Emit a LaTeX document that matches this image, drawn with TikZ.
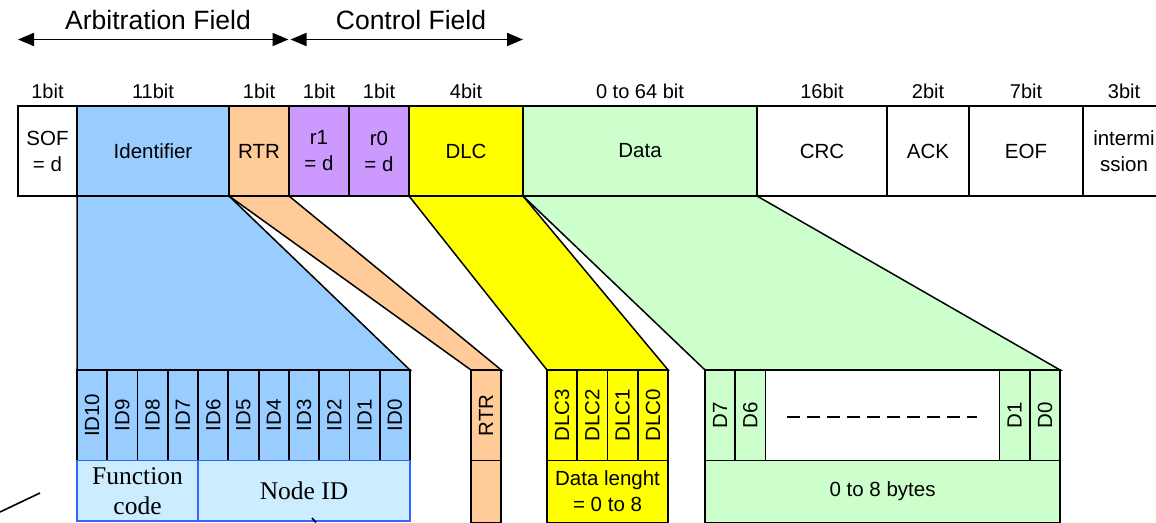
\documentclass[tikz,border=0pt]{standalone}
\usepackage{fontspec}
\usepackage{graphicx}
\setmainfont{Liberation Sans}
\newfontfamily\romanfont{Liberation Serif}
\usetikzlibrary{arrows.meta,backgrounds}

\definecolor{idblue}{HTML}{99CCFF}
\definecolor{rtrorange}{HTML}{FFCC99}
\definecolor{respurple}{HTML}{CC99FF}
\definecolor{dlcyellow}{HTML}{FFFF00}
\definecolor{datagreen}{HTML}{CCFFCC}
\definecolor{fnblue}{HTML}{CCECFF}
\definecolor{fnedge}{HTML}{3366FF}

\begin{document}
\begin{tikzpicture}
  [x=1pt,y=-1pt,
   field/.style={draw,line width=1.8pt,inner sep=0pt,outer sep=0pt,
     anchor=north west,minimum height=90pt,align=center,
     font=\fontsize{20.5}{26}\selectfont},
   bitcell/.style={field,minimum width=30.27pt,minimum height=90.5pt},
   infocell/.style={field,minimum height=62pt},
   bitlabel/.style={inner sep=0pt,font=\fontsize{20}{24}\selectfont},
   headlabel/.style={inner sep=0pt,font=\fontsize{26.5}{32}\selectfont},
   band/.style={draw,line width=1.5pt},
   fieldarrow/.style={line width=1.8pt,
     {Triangle[length=16pt,width=13pt]}-{Triangle[length=16pt,width=13pt]}}]

  \useasboundingbox (0,0) rectangle (1156,522);

  % frame fields with their sizes
  \foreach \name/\x/\w/\col/\txt/\bits in {
      sof/18/59/white/{SOF\\= d}/1bit,
      ident/77/152/idblue/Identifier/11bit,
      rtr/229/60/rtrorange/RTR/1bit,
      rone/289/60/respurple/{r1\\= d}/1bit,
      rzero/349/60/respurple/{r0\\= d}/1bit,
      dlc/409/114/dlcyellow/DLC/4bit,
      data/523/234/datagreen/Data/0 to 64 bit,
      crc/757/130/white/CRC/16bit,
      ack/887/82/white/ACK/2bit,
      eof/969/114/white/EOF/7bit,
      ifs/1083/82/white/{intermi\\ssion}/3bit}
  {
    \node[field,fill=\col,minimum width=\w pt] (\name) at (\x,106) {\txt};
    \node[bitlabel] (\name-bit) at ([yshift=15pt]\name.north) {\bits};
  }

  \coordinate (arbleft)  at (18,39.5);
  \coordinate (arbright) at (288.5,39.5);
  \coordinate (ctlleft)  at (290.5,39.5);
  \coordinate (ctlright) at (523,39.5);
  \draw[fieldarrow] (arbleft) -- (arbright);
  \draw[fieldarrow] (ctlleft) -- (ctlright);
  \node[headlabel] (arbtitle) at (158,20) {Arbitration Field};
  \node[headlabel] (ctltitle) at (411,20) {Control Field};

  % identifier bits
  \foreach \i in {0,...,10}{
    \pgfmathtruncatemacro\n{10-\i}
    \node[bitcell,fill=idblue] (id\n) at (77+\i*30.27,370) {\rotatebox{90}{ID\n}};
  }
  \node[infocell,fill=fnblue,draw=fnedge,minimum width=121.08pt,minimum height=60.5pt,
        font=\romanfont\fontsize{25.5}{30}\selectfont] (fncode) at (id10.south west) {Function\\code};
  \node[infocell,fill=fnblue,draw=fnedge,minimum width=211.89pt,minimum height=60.5pt,
        font=\romanfont\fontsize{25.5}{30}\selectfont] (nodeid) at (id6.south west) {Node ID};

  % RTR bit
  \node[bitcell,fill=rtrorange] (rtrbit) at (471,370) {\rotatebox{90}{RTR}};
  \node[infocell,fill=rtrorange,minimum width=30.27pt] (rtrfree) at (rtrbit.south west) {};

  % DLC bits
  \foreach \i in {0,...,3}{
    \pgfmathtruncatemacro\n{3-\i}
    \node[bitcell,fill=dlcyellow] (dlc\n) at (547+\i*30.27,370) {\rotatebox{90}{DLC\n}};
  }
  \node[infocell,fill=dlcyellow,minimum width=121.08pt] (dlclen) at (dlc3.south west) {Data lenght\\= 0 to 8};

  % data bytes
  \node[bitcell,fill=datagreen] (d7) at (705,370) {\rotatebox{90}{D7}};
  \node[bitcell,fill=datagreen] (d6) at (d7.north east) {\rotatebox{90}{D6}};
  \node[bitcell,fill=white,minimum width=234pt] (dgap) at (d6.north east) {};
  \node[bitcell,fill=datagreen] (d1) at (dgap.north east) {\rotatebox{90}{D1}};
  \node[bitcell,fill=datagreen] (d0) at (d1.north east) {\rotatebox{90}{D0}};
  \node[infocell,fill=datagreen,minimum width=355.08pt] (dbytes) at (d7.south west) {0 to 8 bytes};
  \draw[line width=1.5pt,dash pattern=on 13pt off 7pt]
    ([xshift=21pt,yshift=-1.75pt]dgap.west) -- ([xshift=-23pt,yshift=-1.75pt]dgap.east);

  % expansion bands
  \begin{scope}[on background layer]
    \fill[white] (0,0) rectangle (1156,522);
    \filldraw[band,fill=idblue] (ident.south west) -- (ident.south east)
      -- (id0.north east) -- (id10.north west) -- cycle;
    \filldraw[band,fill=rtrorange] (rtr.south west) -- (rtr.south east)
      -- (rtrbit.north east) -- (rtrbit.north west) -- cycle;
    \filldraw[band,fill=dlcyellow] (dlc.south west) -- (dlc.south east)
      -- (dlc0.north east) -- (dlc3.north west) -- cycle;
    \filldraw[band,fill=datagreen] (data.south west) -- (data.south east)
      -- (d0.north east) -- (d7.north west) -- cycle;
  \end{scope}

  \coordinate (leadA) at (0,512);
  \coordinate (leadB) at (40,493);
  \draw[line width=1.6pt] (leadA) -- (leadB);
  \coordinate (tickA) at (312,518);
  \coordinate (tickB) at (316,522.5);
  \draw[line width=1.6pt] (tickA) -- (tickB);
\end{tikzpicture}
\end{document}
